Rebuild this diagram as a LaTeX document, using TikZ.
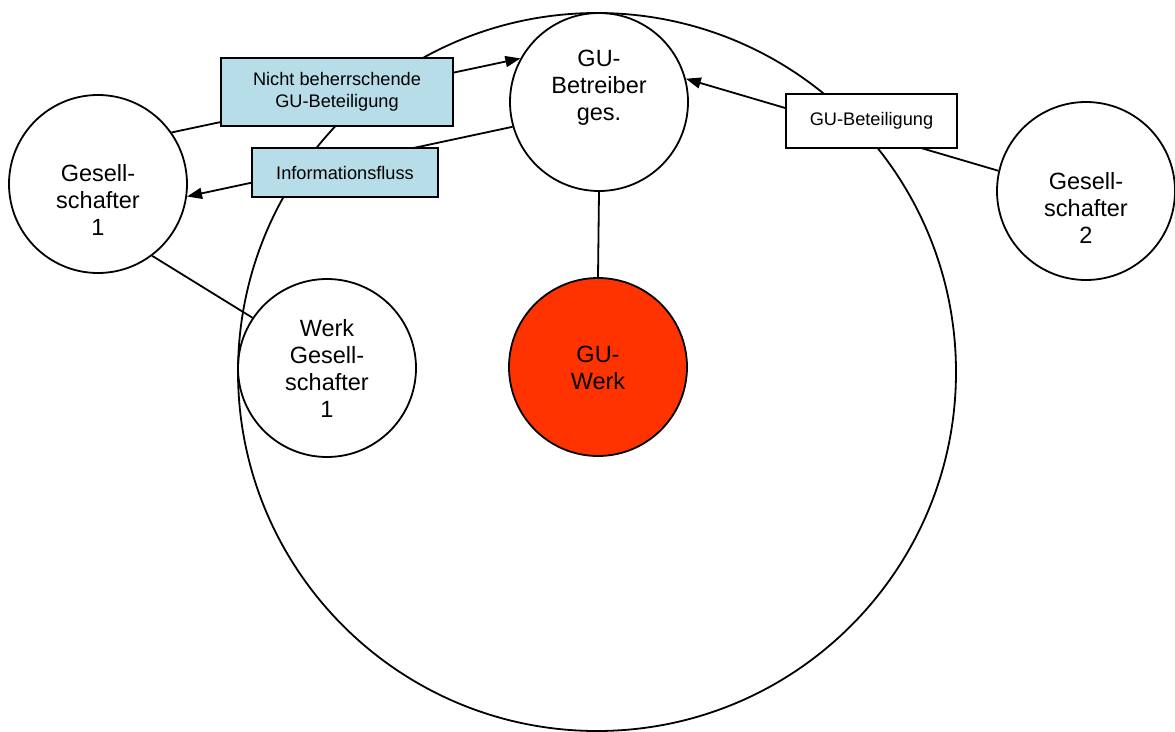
\documentclass[tikz,border=0pt]{standalone}
\usepackage{fontspec}
\setmainfont{Liberation Sans}
\usetikzlibrary{arrows.meta}
\definecolor{boxblue}{RGB}{183,221,232}
\definecolor{gured}{RGB}{255,51,0}
\begin{document}
\begin{tikzpicture}[x=1pt,y=-1pt,
  ring/.style={circle,draw,line width=1.8pt,minimum size=178pt,inner sep=0pt},
  lbl/.style={align=center,font=\fontsize{23.5}{27}\selectfont,inner sep=0pt},
  labelbox/.style={draw,line width=1.8pt,align=center,font=\fontsize{18.2}{21.5}\selectfont,inner sep=0pt},
  conn/.style={line width=1.8pt},
  arr/.style={line width=1.8pt,-{Triangle[length=15pt,width=11pt]}}]
\useasboundingbox (0,0) rectangle (1175,731);
\node[circle,draw,line width=1.8pt,minimum size=718pt,inner sep=0pt] (big) at (597,372) {};
\node[ring] (g1) at (98,184) {};
\node[ring] (gub) at (599,102) {};
\node[ring,fill=gured] (guw) at (598,367) {};
\node[ring] (wg1) at (327,368) {};
\node[ring] (g2) at (1086,191) {};
\draw[arr] (g1.35) -- (gub.151);
\draw[arr] (gub.196) -- (g1.-8);
\draw[arr] (g2.167) -- (gub.15);
\draw[conn] (gub.south) -- (guw.north);
\draw[conn] (g1.-53) -- (wg1.146);
\node[labelbox,fill=boxblue,minimum width=232pt,minimum height=68pt] (b1) at (337,92) {Nicht beherrschende\\GU-Beteiligung};
\node[labelbox,fill=boxblue,minimum width=186pt,minimum height=49pt] (b2) at (345,172.5) {Informationsfluss};
\node[labelbox,fill=white,minimum width=171pt,minimum height=54pt] (b3) at (871.5,121) {GU-Beteiligung};
\node[lbl] (t1) at (98,200) {Gesell-\\schafter\\1};
\node[lbl] (t2) at (599,88) {GU-\\Betreiber\\ges.};
\node[lbl] (t3) at (598,368) {GU-\\Werk};
\node[lbl] (t4) at (327,368) {Werk\\Gesell-\\schafter\\1};
\node[lbl] (t5) at (1086,208) {Gesell-\\schafter\\2};
\end{tikzpicture}
\end{document}
